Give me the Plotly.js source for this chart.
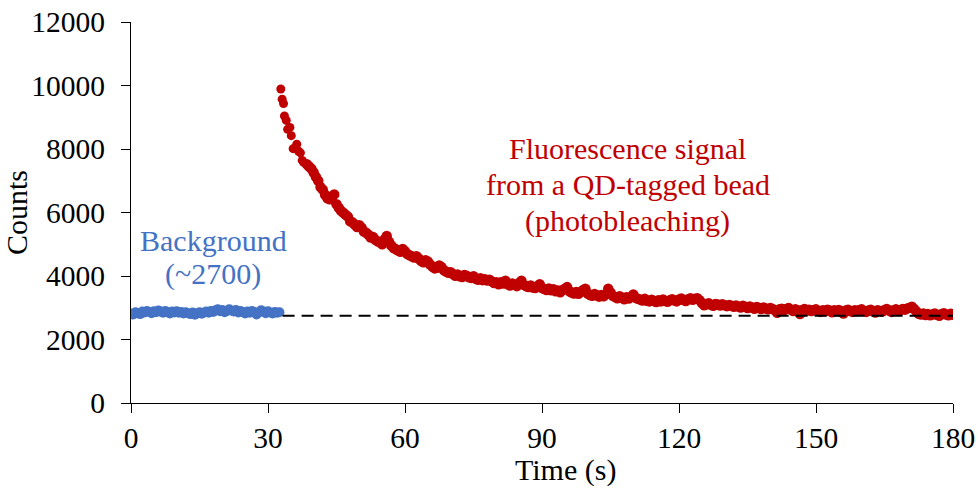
<!DOCTYPE html>
<html>
<head>
<meta charset="utf-8">
<script src="https://cdn.plot.ly/plotly-3.0.1.min.js"></script>
<style>html,body{margin:0;padding:0;background:#fff;}#chart{width:978px;height:489px;}</style>
</head>
<body>
<div id="chart"></div>
<script>
// Background counts, sampled every 0.5 s from t = 0 s
const bgStart = 0;
const bgStep = 0.5;
const bgCounts = [
  2820,2790,2860,2830,2800,2880,2850,2900,2870,2830,
  2890,2860,2910,2880,2840,2900,2870,2820,2880,2850,
  2890,2840,2870,2820,2860,2830,2800,2850,2780,2830,
  2860,2810,2850,2880,2840,2900,2870,2920,2950,2890,
  2930,2860,2900,2950,2910,2880,2930,2850,2900,2860,
  2820,2880,2840,2900,2870,2790,2850,2920,2880,2830,
  2890,2850,2820,2870,2840,2860
];

// Fluorescence onset (irregular sampling)
const onsetTime = [32.8,33.1,33.4,33.6,34.0,34.3,34.8,35.1,35.5,35.9,36.3,36.7,37.1,37.5,37.8];
const onsetCounts = [9890,9570,9430,9040,8900,8620,8680,8420,8010,8030,8150,7930,7880,7640,7580];

// Fluorescence decay, sampled every 0.5 s from t = 38.5 s
const decayStart = 38.5;
const decayStep = 0.5;
const decayCounts = [
  7520,7450,7380,7260,7120,7000,6800,6720,6560,6450,
  6420,6500,6570,6260,6150,6050,5990,5930,5870,5720,
  5690,5620,5540,5600,5520,5400,5360,5300,5210,5230,
  5140,5090,5060,5000,5150,5260,5080,4960,4880,4840,
  4800,4760,4850,4780,4690,4650,4620,4580,4620,4550,
  4480,4430,4500,4460,4360,4300,4240,4260,4330,4280,
  4180,4140,4100,4120,4060,4010,4050,3990,3970,4030,
  4010,3960,3940,3990,3910,3880,3930,3870,3900,3860,
  3880,3830,3780,3800,3740,3800,3760,3850,3740,3700,
  3760,3720,3680,3780,3850,3720,3680,3650,3700,3640,
  3620,3680,3740,3620,3590,3560,3610,3550,3580,3520,
  3540,3490,3560,3600,3650,3520,3480,3450,3500,3440,
  3500,3560,3600,3450,3400,3380,3430,3390,3350,3400,
  3360,3420,3600,3480,3380,3340,3300,3360,3320,3270,
  3330,3290,3350,3420,3310,3280,3260,3230,3280,3220,
  3200,3250,3210,3180,3240,3200,3260,3210,3190,3240,
  3270,3230,3200,3260,3290,3240,3210,3270,3300,3250,
  3280,3300,3240,3150,3080,3110,3140,3090,3060,3120,
  3100,3070,3110,3080,3050,3090,3060,3030,3070,3040,
  3010,3060,3030,2990,3040,3010,2970,3020,3000,2960,
  3010,2980,2950,2990,2960,2920,2840,2950,2970,2930,
  2960,2990,2940,2900,2950,2920,2800,2930,2960,2910,
  2940,2900,2930,2950,2900,2870,2920,2890,2940,2910,
  2860,2920,2890,2930,2880,2820,2910,2940,2900,2870,
  2920,2890,2930,2950,2900,2870,2910,2940,2890,2850,
  2920,2900,2880,2930,2960,2910,2870,2920,2950,2900,
  2930,2960,2940,2980,3000,3030,2960,2880,2810,2790,
  2820,2770,2800,2760,2790,2820,2780,2750,2800,2830,
  2790,2760,2810,2780
];

// Background reference level (dashed line)
const baselineTime = [33.2, 180];
const baselineLevel = [2750, 2750];

// Axis ticks
const xTicks = [0, 30, 60, 90, 120, 150, 180];
const yTicks = [0, 2000, 4000, 6000, 8000, 10000, 12000];

const blue = '#4472C4';
const red = '#C00000';
const serif = 'Liberation Serif, Times New Roman, serif';

const traces = [
  {type: 'scatter', mode: 'markers', y: bgCounts, x0: bgStart, dx: bgStep,
   marker: {color: blue, size: 10}, hoverinfo: 'skip'},
  {type: 'scatter', mode: 'markers', x: onsetTime, y: onsetCounts,
   marker: {color: red, size: 9}, hoverinfo: 'skip'},
  {type: 'scatter', mode: 'markers', y: decayCounts, x0: decayStart, dx: decayStep,
   marker: {color: red, size: 10.5}, hoverinfo: 'skip'},
  {type: 'scatter', mode: 'lines', x: baselineTime, y: baselineLevel,
   line: {color: '#000', width: 2, dash: '12px,7px'}, hoverinfo: 'skip'}
];

const layout = {
  width: 978, height: 489,
  margin: {l: 131, r: 25, t: 22, b: 86},
  paper_bgcolor: '#fff', plot_bgcolor: '#fff',
  showlegend: false,
  font: {family: serif, size: 30, color: '#000'},
  xaxis: {
    range: [0, 180], tickvals: xTicks, ticktext: xTicks.map(String),
    showgrid: false, zeroline: false, showline: true, linecolor: '#000', linewidth: 1,
    ticks: 'outside', ticklen: 9, tickcolor: '#000', tickwidth: 1,
    tickfont: {family: serif, size: 29.5, color: '#000'},
    title: {text: ''}
  },
  yaxis: {
    range: [0, 12000], tickvals: yTicks, ticktext: yTicks.map(String),
    showgrid: false, zeroline: false, showline: true, linecolor: '#000', linewidth: 1,
    ticks: 'outside', ticklen: 9, tickcolor: '#000', tickwidth: 1,
    ticklabelstandoff: 10,
    tickfont: {family: serif, size: 29.5, color: '#000'},
    title: {text: 'Counts', font: {family: serif, size: 30, color: '#000'}, standoff: 3}
  },
  annotations: [
    {xref: 'paper', yref: 'paper', x: 0.529, y: -0.175, yanchor: 'middle', xanchor: 'center',
     text: 'Time (s)', showarrow: false, font: {family: serif, size: 30, color: '#000'}},
    {xref: 'x', yref: 'y', x: 18, y: 5130, text: 'Background', showarrow: false,
     font: {family: serif, size: 30, color: blue}},
    {xref: 'x', yref: 'y', x: 18, y: 4070, text: '(~2700)', showarrow: false,
     font: {family: serif, size: 30, color: blue}},
    {xref: 'x', yref: 'y', x: 108.8, y: 8020, text: 'Fluorescence signal', showarrow: false,
     font: {family: serif, size: 30, color: red}},
    {xref: 'x', yref: 'y', x: 108.8, y: 6870, text: 'from a QD-tagged bead', showarrow: false,
     font: {family: serif, size: 30, color: red}},
    {xref: 'x', yref: 'y', x: 108.8, y: 5740, text: '(photobleaching)', showarrow: false,
     font: {family: serif, size: 30, color: red}}
  ]
};

Plotly.newPlot('chart', traces, layout, {staticPlot: true, displayModeBar: false});
</script>
</body>
</html>
